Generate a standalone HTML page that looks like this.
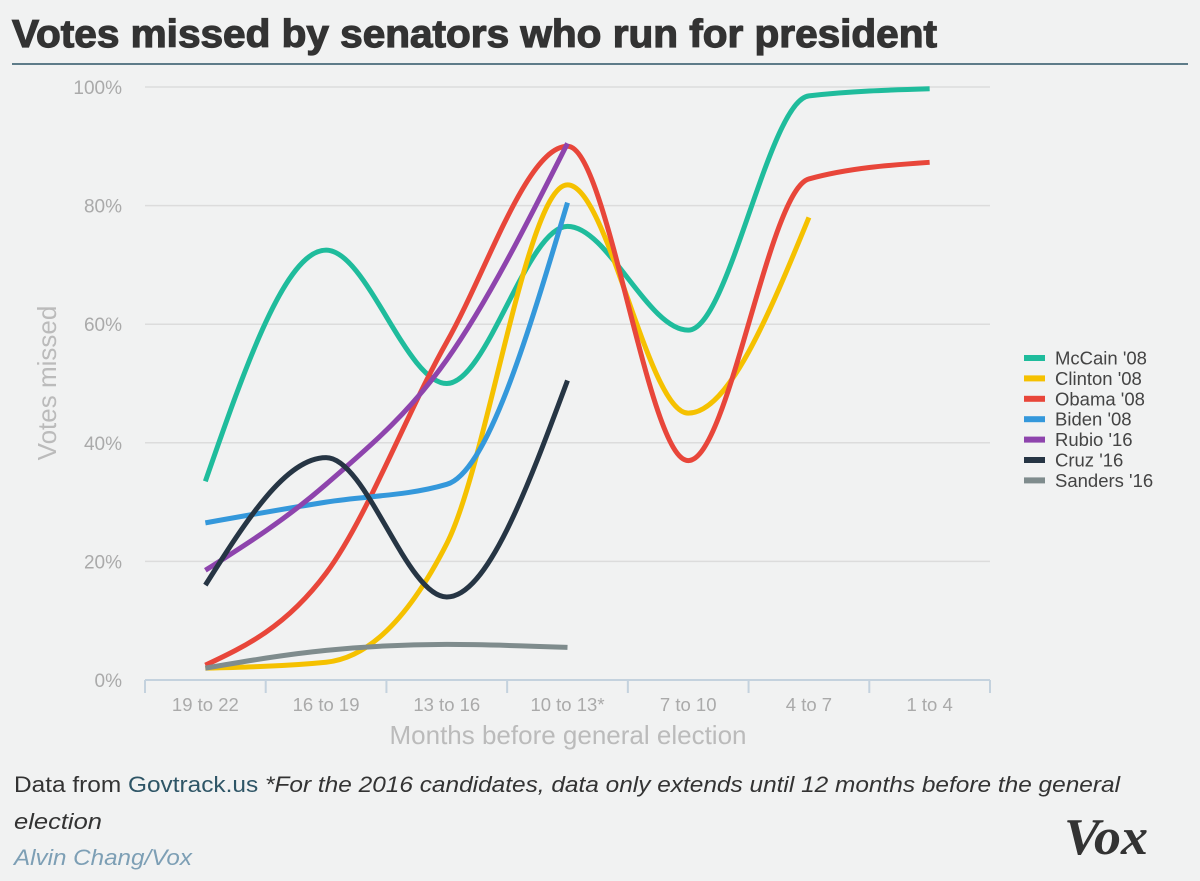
<!DOCTYPE html>
<html><head><meta charset="utf-8">
<style>
html,body{margin:0;padding:0;background:#f1f2f2;}
body{width:1200px;height:876px;overflow:hidden;font-family:"Liberation Sans",sans-serif;}
</style></head>
<body>
<svg id="chart" width="1200" height="876" xmlns="http://www.w3.org/2000/svg">
<rect width="1200" height="876" fill="#f1f2f2"/>
<text x="12" y="47" font-size="39" font-weight="bold" fill="#333" stroke="#333" stroke-width="1.2" textLength="925" lengthAdjust="spacingAndGlyphs" font-family="Liberation Sans, sans-serif">Votes missed by senators who run for president</text>
<line x1="12" y1="64" x2="1188" y2="64" stroke="#2e5566" stroke-width="1.5"/>
<g id="grid"></g>
<g id="axes"></g>
<g id="lines"></g>
<text transform="translate(56,383) rotate(-90)" text-anchor="middle" font-size="26" fill="#bbb">Votes missed</text>
<text x="568" y="744" text-anchor="middle" font-size="26" fill="#bbb">Months before general election</text>
<g id="legend"></g>
<text x="14" y="792" font-size="22" fill="#333" textLength="1106" lengthAdjust="spacingAndGlyphs">Data from <tspan fill="#2e5566">Govtrack.us</tspan> <tspan font-style="italic">*For the 2016 candidates, data only extends until 12 months before the general</tspan></text>
<text x="14" y="829" font-size="22" fill="#333" font-style="italic" textLength="88" lengthAdjust="spacingAndGlyphs">election</text>
<text x="14" y="865" font-size="22" fill="#7d9fb5" font-style="italic" textLength="178" lengthAdjust="spacingAndGlyphs">Alvin Chang/Vox</text>
<text x="1064" y="854" font-size="52" font-weight="bold" font-style="italic" fill="#333" textLength="84" lengthAdjust="spacingAndGlyphs" font-family="Liberation Serif, serif">Vox</text>
</svg>
<script>
const categories=["19 to 22","16 to 19","13 to 16","10 to 13*","7 to 10","4 to 7","1 to 4"];
const yTicks=[0,20,40,60,80,100];
const seriesNames=["McCain '08","Clinton '08","Obama '08","Biden '08","Rubio '16","Cruz '16","Sanders '16"];
const seriesColors=["#1fbc9c","#f5c100","#e8463a","#3498db","#8e44ad","#263544","#7f8c8d"];
const mccain=[33.5,72.5,50,76.5,59,98.5,99.7];
const clinton=[2,3,23,83.5,45,78];
const obama=[2.5,18,57,90,37,84.5,87.3];
const biden=[26.5,30,33,80.5];
const rubio=[18.5,33,54,90.5];
const cruz=[16,37.5,14,50.5];
const sanders=[2,5,6,5.5];
const seriesValues=[mccain,clinton,obama,biden,rubio,cruz,sanders];

const NS="http://www.w3.org/2000/svg";
const left=145,right=990,y0=680,y100=87;
const band=(right-left)/categories.length;
function xScale(i){return left+band*(i+0.5);}
function yScale(v){return y0-(v/100)*(y0-y100);}
function mk(tag,attrs,parent){const e=document.createElementNS(NS,tag);for(const k in attrs)e.setAttribute(k,attrs[k]);parent.appendChild(e);return e;}
const grid=document.getElementById('grid'),axes=document.getElementById('axes'),lines=document.getElementById('lines'),legend=document.getElementById('legend');
yTicks.forEach(t=>{
  if(t>0){const g=mk('line',{x1:left,x2:right,y1:yScale(t),y2:yScale(t),stroke:'#dcdcdc','stroke-width':1.5},grid);
  
  }
  const l=mk('text',{x:122,y:yScale(t)+7,'text-anchor':'end','font-size':19,fill:'#aaa'},grid);
  l.textContent=t+'%';
  
  
});
const ax=mk('line',{x1:left,x2:right,y1:y0,y2:y0,stroke:'#c4d2de','stroke-width':2},axes);


for(let i=0;i<=categories.length;i++){
  const tk=mk('line',{x1:left+band*i,x2:left+band*i,y1:y0,y2:y0+13,stroke:'#c4d2de','stroke-width':2},axes);
  
  
}
categories.forEach((c,i)=>{
  const t=mk('text',{x:xScale(i),y:711,'text-anchor':'middle','font-size':18.5,fill:'#aaa'},axes);
  t.textContent=c;
  
  
});
function monotonePath(pts){
  const n=pts.length;if(n<2)return '';
  const dx=[],s=[];for(let i=0;i<n-1;i++){dx.push(pts[i+1][0]-pts[i][0]);s.push((pts[i+1][1]-pts[i][1])/dx[i]);}
  const m=new Array(n);m[0]=s[0];m[n-1]=s[n-2];
  for(let i=1;i<n-1;i++){if(s[i-1]*s[i]<=0)m[i]=0;else{const h0=dx[i-1],h1=dx[i];const p=(s[i-1]*h1+s[i]*h0)/(h0+h1);m[i]=(Math.sign(s[i-1])+Math.sign(s[i]))*Math.min(Math.abs(s[i-1]),Math.abs(s[i]),0.5*Math.abs(p));}}
  if(n>2){m[0]=(3*s[0]-m[1])/2;m[n-1]=(3*s[n-2]-m[n-2])/2;}
  let d='M'+pts[0][0]+','+pts[0][1];
  for(let i=0;i<n-1;i++){const h=dx[i]/3;d+=' C'+(pts[i][0]+h)+','+(pts[i][1]+m[i]*h)+' '+(pts[i+1][0]-h)+','+(pts[i+1][1]-m[i+1]*h)+' '+pts[i+1][0]+','+pts[i+1][1];}
  return d;
}
seriesValues.forEach((vals,si)=>{
  const pts=vals.map((v,i)=>[xScale(i),yScale(v)]);
  const p=mk('path',{d:monotonePath(pts),fill:'none',stroke:seriesColors[si],'stroke-width':5,'stroke-linecap':'butt'},lines);
  
  
  const ly=358+si*20.4;
  const sw=mk('rect',{x:1024,y:ly-3,width:21,height:6,fill:seriesColors[si]},legend);
  
  
  const lt=mk('text',{x:1055,y:ly+6.5,'font-size':18.5,fill:'#444'},legend);
  lt.textContent=seriesNames[si];
  
  
});
</script>
</body></html>
